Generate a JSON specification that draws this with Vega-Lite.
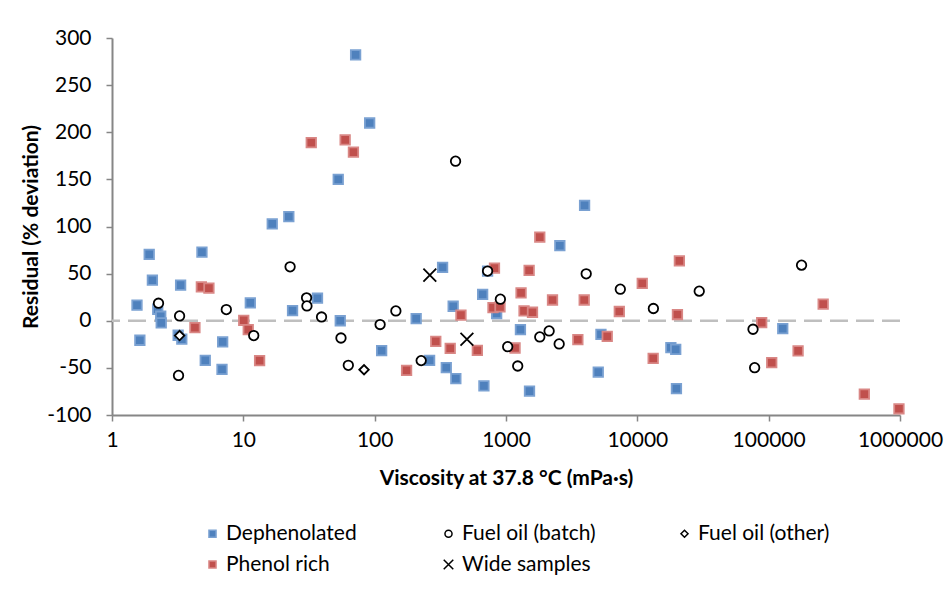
{
  "$schema": "https://vega.github.io/schema/vega-lite/v6.json",
  "width": 788,
  "height": 377,
  "autosize": "none",
  "padding": {"left": 112, "top": 38, "right": 46, "bottom": 186},
  "background": "white",
  "config": {
    "font": "Lato",
    "view": {"stroke": null},
    "axis": {
      "grid": false,
      "domainColor": "#868686",
      "domainWidth": 2,
      "tickColor": "#868686",
      "tickWidth": 1.5,
      "tickSize": 6,
      "labelFont": "Lato",
      "labelFontSize": 21,
      "labelColor": "#000000",
      "labelFlush": false,
      "labelOverlap": false,
      "titleFont": "Lato",
      "titleFontSize": 21,
      "titleFontWeight": "bold",
      "titleColor": "#000000"
    }
  },
  "encoding": {
    "y": {
      "field": "r",
      "type": "quantitative",
      "scale": {"domain": [-100, 300], "nice": false, "zero": false},
      "axis": {
        "title": "Residual (% deviation)",
        "values": [-100, -50, 0, 50, 100, 150, 200, 250, 300],
        "labelExpr": "replace(datum.label, '−', '-')",
        "labelPadding": 15,
        "titlePadding": 5
      }
    }
  },
  "layer": [
    {
      "data": {"values": [{"r": 0}]},
      "mark": {"type": "rule", "color": "#bfbfbf", "strokeWidth": 2.6, "strokeDash": [18, 8]},
      "encoding": {}
    },
    {
      "data": {
        "values": [
          {"s": "Dephenolated", "v": 1.55, "r": 16.5},
          {"s": "Dephenolated", "v": 1.63, "r": -20.7},
          {"s": "Dephenolated", "v": 1.92, "r": 70.4},
          {"s": "Dephenolated", "v": 2.03, "r": 43},
          {"s": "Dephenolated", "v": 2.23, "r": 12.2},
          {"s": "Dephenolated", "v": 2.35, "r": 4.8},
          {"s": "Dephenolated", "v": 2.37, "r": -2.3},
          {"s": "Dephenolated", "v": 3.33, "r": 37.8},
          {"s": "Dephenolated", "v": 3.19, "r": -15.4},
          {"s": "Dephenolated", "v": 3.4, "r": -19.4},
          {"s": "Dephenolated", "v": 4.84, "r": 72.9},
          {"s": "Dephenolated", "v": 5.13, "r": -42},
          {"s": "Dephenolated", "v": 6.96, "r": -22.5},
          {"s": "Dephenolated", "v": 6.88, "r": -51.6},
          {"s": "Dephenolated", "v": 11.3, "r": 19},
          {"s": "Dephenolated", "v": 16.6, "r": 102.7},
          {"s": "Dephenolated", "v": 22.2, "r": 110.4},
          {"s": "Dephenolated", "v": 23.7, "r": 10.8},
          {"s": "Dephenolated", "v": 36.7, "r": 23.9},
          {"s": "Dephenolated", "v": 54.7, "r": 0},
          {"s": "Dephenolated", "v": 113, "r": -31.7},
          {"s": "Dephenolated", "v": 52.8, "r": 150},
          {"s": "Dephenolated", "v": 71.6, "r": 282},
          {"s": "Dephenolated", "v": 91.6, "r": 209.8},
          {"s": "Dephenolated", "v": 207, "r": 2.3},
          {"s": "Dephenolated", "v": 396, "r": 15.4},
          {"s": "Dephenolated", "v": 262, "r": -42},
          {"s": "Dephenolated", "v": 351, "r": -49.8},
          {"s": "Dephenolated", "v": 415, "r": -61.5},
          {"s": "Dephenolated", "v": 664, "r": 27.9},
          {"s": "Dephenolated", "v": 849, "r": 7.7},
          {"s": "Dephenolated", "v": 679, "r": -69},
          {"s": "Dephenolated", "v": 1288, "r": -9.4},
          {"s": "Dephenolated", "v": 1510, "r": -74.7},
          {"s": "Dephenolated", "v": 5284, "r": -14.4},
          {"s": "Dephenolated", "v": 5040, "r": -54.5},
          {"s": "Dephenolated", "v": 18000, "r": -28.5},
          {"s": "Dephenolated", "v": 19600, "r": -30.3},
          {"s": "Dephenolated", "v": 19850, "r": -72},
          {"s": "Dephenolated", "v": 329, "r": 56.6},
          {"s": "Dephenolated", "v": 2570, "r": 79.6},
          {"s": "Dephenolated", "v": 3966, "r": 122.5},
          {"s": "Dephenolated", "v": 724, "r": 52.7},
          {"s": "Dephenolated", "v": 128000, "r": -8.3},
          {"s": "Phenol rich", "v": 32.9, "r": 189},
          {"s": "Phenol rich", "v": 59.6, "r": 192},
          {"s": "Phenol rich", "v": 68.9, "r": 179},
          {"s": "Phenol rich", "v": 4.79, "r": 36},
          {"s": "Phenol rich", "v": 5.47, "r": 34.6},
          {"s": "Phenol rich", "v": 4.28, "r": -7.3},
          {"s": "Phenol rich", "v": 10.07, "r": 0.5},
          {"s": "Phenol rich", "v": 10.9, "r": -9.4},
          {"s": "Phenol rich", "v": 13.3, "r": -42.4},
          {"s": "Phenol rich", "v": 292, "r": -21.8},
          {"s": "Phenol rich", "v": 376, "r": -29.3},
          {"s": "Phenol rich", "v": 175, "r": -52.7},
          {"s": "Phenol rich", "v": 454, "r": 5.9},
          {"s": "Phenol rich", "v": 605, "r": -31.4},
          {"s": "Phenol rich", "v": 796, "r": 14},
          {"s": "Phenol rich", "v": 900, "r": 14.7},
          {"s": "Phenol rich", "v": 1302, "r": 29.6},
          {"s": "Phenol rich", "v": 1372, "r": 10.4},
          {"s": "Phenol rich", "v": 1591, "r": 9},
          {"s": "Phenol rich", "v": 1172, "r": -28.9},
          {"s": "Phenol rich", "v": 2260, "r": 22},
          {"s": "Phenol rich", "v": 3525, "r": -20},
          {"s": "Phenol rich", "v": 3940, "r": 22},
          {"s": "Phenol rich", "v": 5900, "r": -16.5},
          {"s": "Phenol rich", "v": 7290, "r": 9.8},
          {"s": "Phenol rich", "v": 10900, "r": 39.6},
          {"s": "Phenol rich", "v": 20200, "r": 6.6},
          {"s": "Phenol rich", "v": 13200, "r": -40},
          {"s": "Phenol rich", "v": 1808, "r": 88.8},
          {"s": "Phenol rich", "v": 817, "r": 55.9},
          {"s": "Phenol rich", "v": 1500, "r": 53.4},
          {"s": "Phenol rich", "v": 20900, "r": 63.6},
          {"s": "Phenol rich", "v": 88500, "r": -1.9},
          {"s": "Phenol rich", "v": 260000, "r": 17.6},
          {"s": "Phenol rich", "v": 167500, "r": -32},
          {"s": "Phenol rich", "v": 105500, "r": -44.5},
          {"s": "Phenol rich", "v": 535000, "r": -77.9},
          {"s": "Phenol rich", "v": 982000, "r": -93.4},
          {"s": "Fuel oil (batch)", "v": 2.26, "r": 18.6},
          {"s": "Fuel oil (batch)", "v": 3.27, "r": 5.1},
          {"s": "Fuel oil (batch)", "v": 3.21, "r": -58},
          {"s": "Fuel oil (batch)", "v": 7.42, "r": 11.9},
          {"s": "Fuel oil (batch)", "v": 12, "r": -15.7},
          {"s": "Fuel oil (batch)", "v": 22.7, "r": 57.2},
          {"s": "Fuel oil (batch)", "v": 30.3, "r": 24.3},
          {"s": "Fuel oil (batch)", "v": 30.5, "r": 15.7},
          {"s": "Fuel oil (batch)", "v": 39.4, "r": 4},
          {"s": "Fuel oil (batch)", "v": 55.4, "r": -18.3},
          {"s": "Fuel oil (batch)", "v": 63, "r": -47.3},
          {"s": "Fuel oil (batch)", "v": 110, "r": -4},
          {"s": "Fuel oil (batch)", "v": 145, "r": 10.4},
          {"s": "Fuel oil (batch)", "v": 413, "r": 169.3},
          {"s": "Fuel oil (batch)", "v": 4080, "r": 49.8},
          {"s": "Fuel oil (batch)", "v": 724, "r": 52.7},
          {"s": "Fuel oil (batch)", "v": 226, "r": -42.3},
          {"s": "Fuel oil (batch)", "v": 906, "r": 22.9},
          {"s": "Fuel oil (batch)", "v": 1030, "r": -27.5},
          {"s": "Fuel oil (batch)", "v": 1228, "r": -48},
          {"s": "Fuel oil (batch)", "v": 1808, "r": -17.2},
          {"s": "Fuel oil (batch)", "v": 2130, "r": -10.8},
          {"s": "Fuel oil (batch)", "v": 2540, "r": -24.6},
          {"s": "Fuel oil (batch)", "v": 7420, "r": 33.5},
          {"s": "Fuel oil (batch)", "v": 13250, "r": 13},
          {"s": "Fuel oil (batch)", "v": 29600, "r": 31.4},
          {"s": "Fuel oil (batch)", "v": 76000, "r": -9},
          {"s": "Fuel oil (batch)", "v": 78200, "r": -49.8},
          {"s": "Fuel oil (batch)", "v": 178000, "r": 59},
          {"s": "Fuel oil (other)", "v": 3.27, "r": -15.7},
          {"s": "Fuel oil (other)", "v": 83, "r": -52},
          {"s": "Wide samples", "v": 263, "r": 48.4},
          {"s": "Wide samples", "v": 504, "r": -19.7}
        ]
      },
      "mark": {"type": "point", "size": 90, "strokeWidth": 1.8, "opacity": 1},
      "encoding": {
        "x": {
          "field": "v",
          "type": "quantitative",
          "scale": {"type": "log", "domain": [1, 1000000], "nice": false},
          "axis": {
            "title": "Viscosity at 37.8 °C (mPa·s)",
            "values": [1, 10, 100, 1000, 10000, 100000, 1000000],
            "format": "d",
            "labelPadding": 8,
            "titlePadding": 17
          }
        },
        "shape": {
          "field": "s",
          "type": "nominal",
          "scale": {
            "domain": ["Dephenolated", "Fuel oil (batch)", "Fuel oil (other)", "Phenol rich", "Wide samples"],
            "range": ["square", "circle", "diamond", "square", "M-1.35,-1.35L1.35,1.35M-1.35,1.35L1.35,-1.35"]
          },
          "legend": {"title": null, "orient": "none", "legendX": 90, "legendY": 485, "columns": 3, "direction": "horizontal", "gridAlign": "all", "columnPadding": 78, "rowPadding": 9, "labelFontSize": 21, "labelFont": "Lato", "labelColor": "#000000", "symbolSize": 50, "symbolStrokeWidth": 1.5, "labelOffset": 3}
        },
        "fill": {
          "field": "s",
          "type": "nominal",
          "scale": {
            "domain": ["Dephenolated", "Fuel oil (batch)", "Fuel oil (other)", "Phenol rich", "Wide samples"],
            "range": ["#4f81bd", "#ffffff", "#ffffff", "#c0504d", "transparent"]
          },
          "legend": {"title": null, "orient": "none", "legendX": 90, "legendY": 485, "columns": 3, "direction": "horizontal", "gridAlign": "all", "columnPadding": 78, "rowPadding": 9, "labelFontSize": 21, "labelFont": "Lato", "labelColor": "#000000", "symbolSize": 50, "symbolStrokeWidth": 1.5, "labelOffset": 3}
        },
        "stroke": {
          "field": "s",
          "type": "nominal",
          "scale": {
            "domain": ["Dephenolated", "Fuel oil (batch)", "Fuel oil (other)", "Phenol rich", "Wide samples"],
            "range": ["#7aa1d2", "#000000", "#000000", "#d98785", "#000000"]
          },
          "legend": {"title": null, "orient": "none", "legendX": 90, "legendY": 485, "columns": 3, "direction": "horizontal", "gridAlign": "all", "columnPadding": 78, "rowPadding": 9, "labelFontSize": 21, "labelFont": "Lato", "labelColor": "#000000", "symbolSize": 50, "symbolStrokeWidth": 1.5, "labelOffset": 3}
        }
      }
    }
  ]
}
